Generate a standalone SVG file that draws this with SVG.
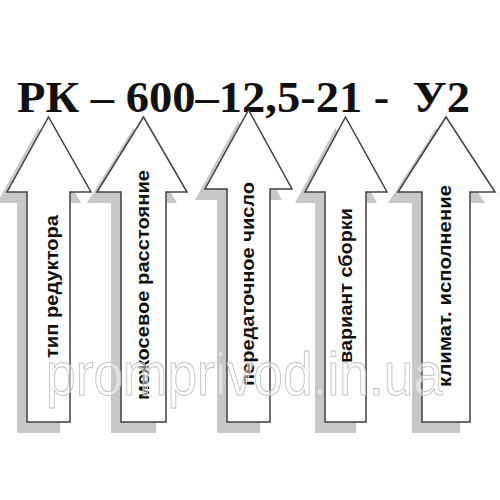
<svg xmlns="http://www.w3.org/2000/svg" width="500" height="500" viewBox="0 0 500 500">
<style>
.shadow{fill:#c8c8c8;stroke:none}
.arrow{fill:#fff;stroke:#404040;stroke-width:1.5;stroke-linejoin:miter}
.lbl{font-family:"Liberation Sans",Arial,sans-serif;font-weight:bold;font-size:18px;fill:#111;text-anchor:middle}
.title{font-family:"Liberation Serif","Times New Roman",serif;font-weight:bold;font-size:44px;fill:#111}
.wm{font-family:"Liberation Sans",Arial,sans-serif;font-size:62px;fill:#fff;fill-opacity:0.45;stroke:#c4c4c4;stroke-width:1}
</style>
<rect width="500" height="500" fill="#fff"/>
<text class="title" x="17" y="112" textLength="453" lengthAdjust="spacingAndGlyphs" xml:space="preserve">РК – 600–12,5-21 -  У2</text>
<g id="connectors"/>
<g id="n1">
<polygon class="shadow" points="17,433 17,203 -3,203 38.5,128 81,203 60,203 60,433"/>
<polygon class="arrow" points="27,422 27,192 7,192 48.5,117 91,192 70,192 70,422"/>
<text class="lbl" transform="translate(58,286.5) rotate(-90)" textLength="143" lengthAdjust="spacingAndGlyphs">тип редуктора</text>
</g>
<g id="n2">
<polygon class="shadow" points="111,433 111,203 87,203 133.5,128 177,203 156,203 156,433"/>
<polygon class="arrow" points="121,422 121,192 97,192 143.5,117 187,192 166,192 166,422"/>
<text class="lbl" transform="translate(149,285) rotate(-90)" textLength="230" lengthAdjust="spacingAndGlyphs">межосевое расстояние</text>
</g>
<g id="n3">
<polygon class="shadow" points="217,433 217,200 195,200 238.5,121 282,200 260,200 260,433"/>
<polygon class="arrow" points="227,422 227,189 205,189 248.5,110 292,189 270,189 270,422"/>
<text class="lbl" transform="translate(254,284) rotate(-90)" textLength="204" lengthAdjust="spacingAndGlyphs">передаточное число</text>
</g>
<g id="n4">
<polygon class="shadow" points="315,433 315,203 295,203 335.5,128 377,203 356,203 356,433"/>
<polygon class="arrow" points="325,422 325,192 305,192 345.5,117 387,192 366,192 366,422"/>
<text class="lbl" transform="translate(352,285.5) rotate(-90)" textLength="155" lengthAdjust="spacingAndGlyphs">вариант сборки</text>
</g>
<g id="n5">
<polygon class="shadow" points="412,433 412,203 388,203 436,128 485,203 460,203 460,433"/>
<polygon class="arrow" points="422,422 422,192 398,192 446,117 495,192 470,192 470,422"/>
<text class="lbl" transform="translate(451,286) rotate(-90)" textLength="202" lengthAdjust="spacingAndGlyphs">климат. исполнение</text>
</g>
<text class="wm" x="46" y="395" textLength="397" lengthAdjust="spacingAndGlyphs">promprivod.in.ua</text>
</svg>
